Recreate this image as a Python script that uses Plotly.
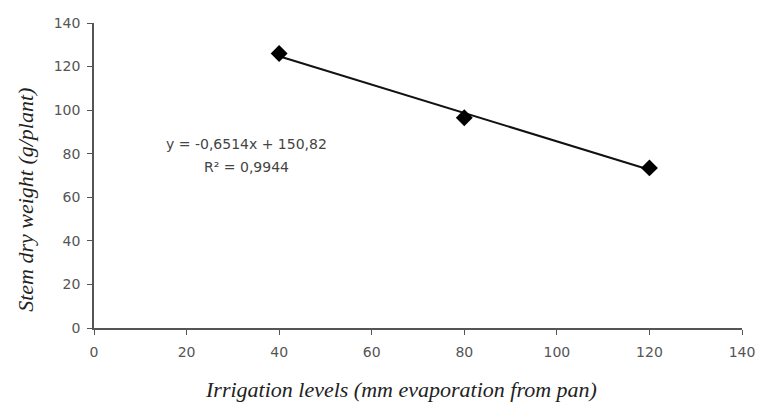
import plotly.graph_objects as go

irrigation = [40, 80, 120]
stem_dry_weight = [126, 96.5, 73.5]
slope = -0.6514
intercept = 150.82
r_squared = 0.9944
x_ticks = [0, 20, 40, 60, 80, 100, 120, 140]
y_ticks = [0, 20, 40, 60, 80, 100, 120, 140]

trend_x = [min(irrigation), max(irrigation)]
trend_y = [slope * v + intercept for v in trend_x]

fig = go.Figure()
fig.add_trace(go.Scatter(x=trend_x, y=trend_y, mode="lines",
                         line=dict(color="#111111", width=2), showlegend=False))
fig.add_trace(go.Scatter(x=irrigation, y=stem_dry_weight, mode="markers",
                         marker=dict(symbol="diamond", size=13, color="#000000"),
                         showlegend=False))

eq_text = f"y = {slope:.4f}x + {intercept:.2f}".replace(".", ",")
r2_text = f"R² = {r_squared:.4f}".replace(".", ",")
eq_font = dict(family="DejaVu Sans", size=14, color="#444444")
fig.add_annotation(x=33, y=84.4, xref="x", yref="y", text=eq_text,
                   showarrow=False, font=eq_font)
fig.add_annotation(x=33, y=73.9, xref="x", yref="y", text=r2_text,
                   showarrow=False, font=eq_font)

title_font = dict(family="Liberation Serif", size=22, color="#222222")
fig.add_annotation(x=0.474, y=-0.203, xref="paper", yref="paper",
                   text="<i>Irrigation levels (mm evaporation from pan)</i>",
                   showarrow=False, font=title_font, xanchor="center", yanchor="middle")
fig.add_annotation(x=-0.105, y=0.42, xref="paper", yref="paper",
                   text="<i>Stem dry weight (g/plant)</i>", textangle=-90,
                   showarrow=False, font=title_font, xanchor="center", yanchor="middle")

axis_common = dict(showgrid=False, zeroline=False, showline=True, linecolor="#555555",
                   linewidth=1.5, ticks="outside", ticklen=5, tickcolor="#555555",
                   automargin=False,
                   tickfont=dict(family="DejaVu Sans", size=14, color="#555555"))

fig.update_xaxes(range=[0, 140], tickvals=x_ticks, ticklabelstandoff=5, **axis_common)
fig.update_yaxes(range=[0, 140], tickvals=y_ticks, ticklabelstandoff=4, **axis_common)

fig.update_layout(width=758, height=402, margin=dict(l=94, r=16, t=23, b=74),
                  plot_bgcolor="white", paper_bgcolor="white")

fig.write_html("out.html", config={"displayModeBar": False},
               post_script="document.body.style.margin='0';document.body.style.overflow='hidden';")
